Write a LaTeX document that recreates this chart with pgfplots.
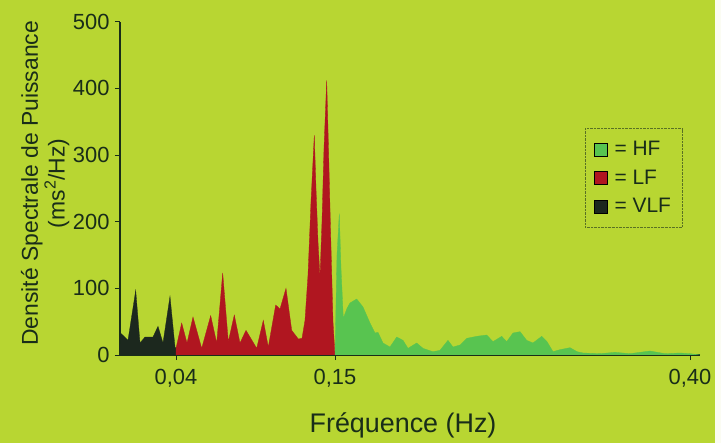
\documentclass[border=0pt]{standalone}
\usepackage{fontspec}
\setmainfont{Liberation Sans}
\usepackage{pgfplots}
\pgfplotsset{compat=1.18}
\definecolor{bg}{RGB}{184,214,50}
\definecolor{hfc}{RGB}{88,196,80}
\definecolor{lfc}{RGB}{176,22,32}
\definecolor{vlfc}{RGB}{28,40,30}
\definecolor{axc}{RGB}{25,45,25}
\begin{document}
\begin{tikzpicture}
\fill[bg] (0,0) rectangle (721bp,443bp);
\fill[white!94!bg] (715bp,0) rectangle (721bp,443bp);
\begin{axis}[
  at={(120bp,88bp)}, anchor=south west,
  scale only axis, width=580bp, height=333.3bp,
  xmin=0, xmax=580, ymin=0, ymax=500,
  axis x line=bottom, axis y line=left,
  axis line style={-, line width=1.2bp, draw=axc},
  tick style={draw=axc, line width=0.8bp},
  major tick length=5bp, tick align=outside,
  xtick={56,215,570}, xticklabels={{0,04},{0,15},{0,40}},
  ytick={0,100,200,300,400,500},
  /pgf/number format/assume math mode=true,
  ticklabel style={font=\fontsize{22}{24}\selectfont, text=axc},
  xticklabel style={yshift=-6bp},
  yticklabel style={xshift=-2bp},
  xlabel={Fréquence (Hz)},
  xlabel style={font=\fontsize{27}{30}\selectfont, text=axc, at={(axis description cs:0.488,-0.21)}, anchor=center},
  ylabel={Densité Spectrale de Puissance\\(ms\textsuperscript{2}/Hz)},
  ylabel style={font=\fontsize{23}{27}\selectfont, text=axc, align=center, at={(axis description cs:-0.129,0.515)}, anchor=center},
  legend style={at={(axis description cs:0.8017,0.68)}, anchor=north west, draw=axc!60!bg, densely dotted, fill=none,
    font=\fontsize{21}{23}\selectfont, text=axc, row sep=8.5bp, inner xsep=9bp, inner ysep=11bp},
  legend cell align=left,
  legend image code/.code={\fill[#1, solid] (0bp,-6.5bp) rectangle (13bp,6.5bp); \path (18bp,0);},
]
\addlegendimage{fill=hfc}
\addlegendentry{= HF}
\addlegendimage{fill=lfc}
\addlegendentry{= LF}
\addlegendimage{fill=vlfc}
\addlegendentry{= VLF}
% VLF
\addplot[fill=vlfc, draw=vlfc, line width=0.3bp, forget plot] coordinates {
(0,0) (0.5,33) (8,22) (15.7,97) (20,18) (25,27) (33,27) (38,43) (43,18) (50,88) (55,12) (56,10)
} \closedcycle;
% LF
\addplot[fill=lfc, draw=lfc, line width=0.3bp, forget plot] coordinates {
(56,10) (61.7,48) (67,18) (73,57) (81.7,10) (90.7,59) (96.7,18) (102.7,123) (108.3,20) (114.3,60)
(120,18) (126,37) (136.7,10) (143.3,52) (148.3,12) (155.7,75) (160,69) (166,100) (171.7,37)
(178.3,24) (182,25) (185,52) (188,120) (191,230) (194.3,330) (196,250) (198,170) (200,117)
(202,200) (204,310) (206.7,412) (208.5,310) (210.5,190) (213,50) (215,0)
} \closedcycle;
% HF
\addplot[fill=hfc, draw=hfc, line width=0.3bp, forget plot] coordinates {
(215,0) (217,150) (219.3,212) (221,130) (223.3,55) (227,70) (230,78) (236.7,84) (243,72) (250,48)
(255,33) (258,34) (263,18) (270,12) (276.7,27) (283,22) (288,10) (296.7,18) (303,10) (313,5)
(320,7) (328,22) (333,12) (340,15) (346.7,25) (356.7,28) (366.7,30) (373,20) (381.7,28) (386.7,20)
(393,33) (400,35) (406.7,22) (413,18) (421.7,28) (427,20) (433,5) (440,8) (450,11) (457,5)
(463,3) (480,2) (495,4) (510,2) (530,6) (545,2) (560,3) (570,2) (580,0)
} \closedcycle;
\end{axis}
\end{tikzpicture}
\end{document}
